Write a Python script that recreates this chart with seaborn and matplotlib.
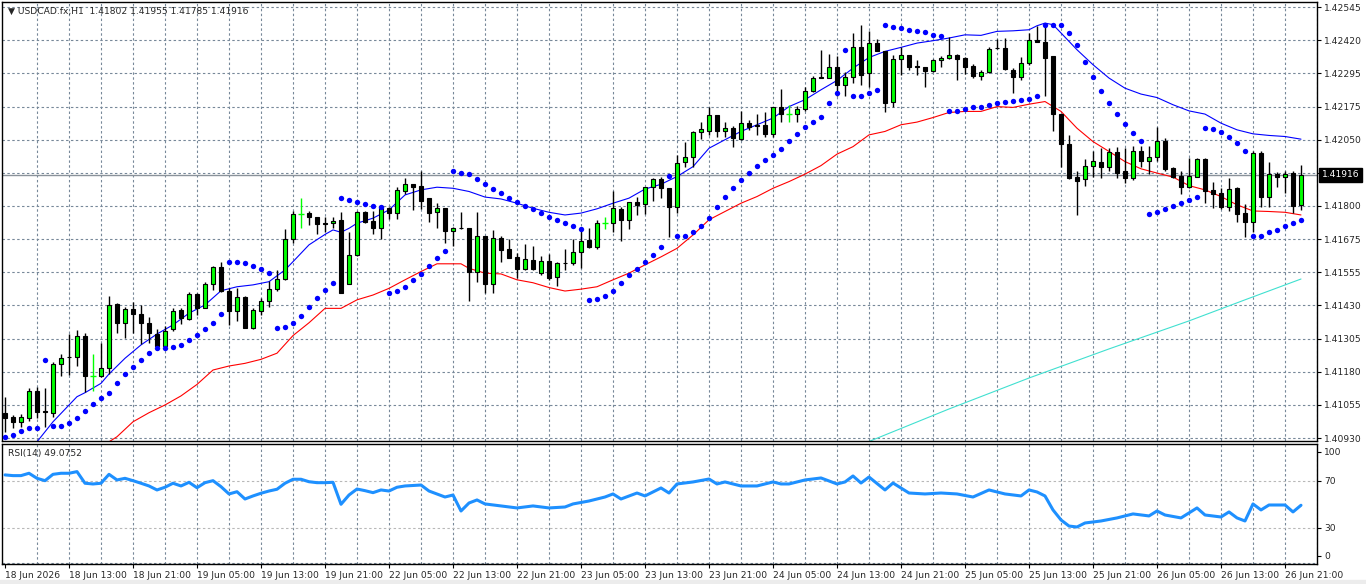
import numpy as np
import pandas as pd
import matplotlib
matplotlib.use("Agg")
import matplotlib.pyplot as plt
import matplotlib.transforms as mtransforms
import seaborn as sns

# --- candles (USDCAD.fx H1), one per hour ---
opens = [1.41025, 1.41008, 1.40991, 1.41004, 1.41106, 1.41030, 1.41025, 1.41206, 1.41234, 1.41233,
         1.41313, 1.41164, 1.41164, 1.41191, 1.41433, 1.41362, 1.41413, 1.41394, 1.41360, 1.41320,
         1.41275, 1.41338, 1.41410, 1.41376, 1.41469, 1.41419, 1.41506, 1.41570, 1.41482, 1.41407,
         1.41458, 1.41341, 1.41407, 1.41445, 1.41488, 1.41525, 1.41676, 1.41770, 1.41773, 1.41760,
         1.41735, 1.41735, 1.41748, 1.41506, 1.41616, 1.41776, 1.41744, 1.41716, 1.41791, 1.41773,
         1.41854, 1.41881, 1.41875, 1.41829, 1.41776, 1.41791, 1.41707, 1.41717, 1.41716, 1.41554,
         1.41688, 1.41506, 1.41679, 1.41638, 1.41608, 1.41563, 1.41598, 1.41550, 1.41594, 1.41533,
         1.41586, 1.41585, 1.41629, 1.41673, 1.41647, 1.41735, 1.41735, 1.41789, 1.41748, 1.41814,
         1.41806, 1.41870, 1.41900, 1.41866, 1.41794, 1.41964, 1.41985, 1.42076, 1.42082, 1.42141,
         1.42082, 1.42091, 1.42051, 1.42110, 1.42104, 1.42104, 1.42069, 1.42170, 1.42145, 1.42144,
         1.42163, 1.42229, 1.42282, 1.42281, 1.42322, 1.42254, 1.42283, 1.42397, 1.42298, 1.42410,
         1.42381, 1.42189, 1.42350, 1.42364, 1.42325, 1.42320, 1.42307, 1.42345, 1.42354, 1.42366,
         1.42354, 1.42325, 1.42285, 1.42300, 1.42392, 1.42391, 1.42310, 1.42283, 1.42335, 1.42420,
         1.42414, 1.42363, 1.42144, 1.42031, 1.41908, 1.41900, 1.41951, 1.41966, 1.41945, 1.42001,
         1.41931, 1.41904, 1.42006, 1.41970, 1.41985, 1.42044, 1.41941, 1.41913, 1.41869, 1.41910,
         1.41975, 1.41860, 1.41850, 1.41797, 1.41866, 1.41775, 1.41741, 1.42000, 1.41835, 1.41920,
         1.41910, 1.41925, 1.41802]
highs = [1.41085, 1.41016, 1.41019, 1.41116, 1.41120, 1.41116, 1.41216, 1.41245, 1.41320, 1.41335,
         1.41323, 1.41245, 1.41285, 1.41463, 1.41437, 1.41422, 1.41441, 1.41429, 1.41385, 1.41338,
         1.41350, 1.41419, 1.41416, 1.41479, 1.41475, 1.41516, 1.41575, 1.41591, 1.41491, 1.41491,
         1.41464, 1.41419, 1.41454, 1.41519, 1.41560, 1.41713, 1.41779, 1.41829, 1.41781, 1.41760,
         1.41760, 1.41760, 1.41776, 1.41704, 1.41782, 1.41779, 1.41779, 1.41804, 1.41795, 1.41872,
         1.41904, 1.41881, 1.41931, 1.41829, 1.41810, 1.41791, 1.41722, 1.41776, 1.41716, 1.41776,
         1.41688, 1.41710, 1.41688, 1.41676, 1.41623, 1.41656, 1.41650, 1.41614, 1.41620, 1.41591,
         1.41638, 1.41676, 1.41716, 1.41716, 1.41748, 1.41758, 1.41856, 1.41797, 1.41816, 1.41833,
         1.41872, 1.41904, 1.41910, 1.41866, 1.41991, 1.42041, 1.42079, 1.42114, 1.42169, 1.42141,
         1.42116, 1.42100, 1.42154, 1.42123, 1.42145, 1.42150, 1.42172, 1.42239, 1.42179, 1.42176,
         1.42247, 1.42285, 1.42385, 1.42369, 1.42360, 1.42301, 1.42448, 1.42479, 1.42457, 1.42425,
         1.42381, 1.42366, 1.42397, 1.42366, 1.42348, 1.42322, 1.42351, 1.42363, 1.42433, 1.42369,
         1.42358, 1.42331, 1.42310, 1.42394, 1.42426, 1.42429, 1.42316, 1.42358, 1.42448, 1.42475,
         1.42485, 1.42363, 1.42144, 1.42066, 1.41931, 1.41975, 1.42006, 1.42016, 1.42016, 1.42022,
         1.42016, 1.42025, 1.42026, 1.42025, 1.42094, 1.42054, 1.41947, 1.41929, 1.41979, 1.41979,
         1.41981, 1.41891, 1.41866, 1.41904, 1.41869, 1.41806, 1.42004, 1.42004, 1.41966, 1.41926,
         1.41929, 1.41931, 1.41955]
lows = [1.40954, 1.40966, 1.40972, 1.40995, 1.41004, 1.40972, 1.41010, 1.41164, 1.41166, 1.41201,
        1.41104, 1.41107, 1.41160, 1.41170, 1.41325, 1.41306, 1.41323, 1.41281, 1.41285, 1.41260,
        1.41270, 1.41332, 1.41358, 1.41373, 1.41391, 1.41416, 1.41485, 1.41479, 1.41354, 1.41370,
        1.41341, 1.41339, 1.41391, 1.41422, 1.41482, 1.41522, 1.41660, 1.41716, 1.41729, 1.41694,
        1.41704, 1.41716, 1.41473, 1.41506, 1.41614, 1.41735, 1.41695, 1.41675, 1.41751, 1.41751,
        1.41845, 1.41785, 1.41789, 1.41741, 1.41716, 1.41660, 1.41651, 1.41713, 1.41445, 1.41516,
        1.41473, 1.41475, 1.41591, 1.41606, 1.41529, 1.41560, 1.41560, 1.41541, 1.41523, 1.41501,
        1.41560, 1.41579, 1.41569, 1.41641, 1.41639, 1.41713, 1.41704, 1.41670, 1.41713, 1.41766,
        1.41770, 1.41820, 1.41829, 1.41685, 1.41775, 1.41947, 1.41947, 1.42051, 1.42066, 1.42060,
        1.42060, 1.42022, 1.42048, 1.42085, 1.42066, 1.42060, 1.42060, 1.42116, 1.42116, 1.42114,
        1.42154, 1.42225, 1.42279, 1.42279, 1.42210, 1.42210, 1.42260, 1.42254, 1.42247, 1.42379,
        1.42150, 1.42172, 1.42291, 1.42310, 1.42289, 1.42244, 1.42301, 1.42322, 1.42351, 1.42270,
        1.42294, 1.42281, 1.42273, 1.42298, 1.42389, 1.42310, 1.42223, 1.42273, 1.42329, 1.42414,
        1.42213, 1.42079, 1.41947, 1.41900, 1.41766, 1.41876, 1.41910, 1.41906, 1.41929, 1.41906,
        1.41887, 1.41898, 1.41947, 1.41919, 1.41969, 1.41929, 1.41904, 1.41845, 1.41866, 1.41908,
        1.41810, 1.41791, 1.41788, 1.41781, 1.41739, 1.41685, 1.41704, 1.41795, 1.41794, 1.41869,
        1.41848, 1.41775, 1.41785]
closes = [1.41004, 1.40991, 1.41008, 1.41106, 1.41029, 1.41028, 1.41206, 1.41229, 1.41232, 1.41313,
          1.41164, 1.41164, 1.41191, 1.41429, 1.41362, 1.41413, 1.41394, 1.41360, 1.41323, 1.41275,
          1.41332, 1.41406, 1.41379, 1.41469, 1.41416, 1.41506, 1.41570, 1.41482, 1.41407, 1.41458,
          1.41341, 1.41410, 1.41445, 1.41488, 1.41525, 1.41675, 1.41770, 1.41770, 1.41760, 1.41731,
          1.41731, 1.41745, 1.41473, 1.41616, 1.41776, 1.41741, 1.41716, 1.41801, 1.41773, 1.41860,
          1.41881, 1.41872, 1.41820, 1.41775, 1.41791, 1.41707, 1.41716, 1.41716, 1.41554, 1.41688,
          1.41506, 1.41679, 1.41635, 1.41606, 1.41563, 1.41600, 1.41563, 1.41595, 1.41531, 1.41585,
          1.41585, 1.41629, 1.41670, 1.41647, 1.41735, 1.41735, 1.41791, 1.41748, 1.41814, 1.41804,
          1.41870, 1.41900, 1.41866, 1.41794, 1.41960, 1.41985, 1.42076, 1.42088, 1.42141, 1.42082,
          1.42091, 1.42054, 1.42110, 1.42095, 1.42100, 1.42069, 1.42170, 1.42144, 1.42145, 1.42163,
          1.42229, 1.42279, 1.42281, 1.42322, 1.42254, 1.42283, 1.42397, 1.42291, 1.42410, 1.42379,
          1.42185, 1.42350, 1.42364, 1.42322, 1.42319, 1.42307, 1.42348, 1.42354, 1.42364, 1.42350,
          1.42322, 1.42285, 1.42301, 1.42389, 1.42391, 1.42313, 1.42283, 1.42335, 1.42420, 1.42414,
          1.42356, 1.42144, 1.42031, 1.41906, 1.41895, 1.41951, 1.41969, 1.41947, 1.42001, 1.41925,
          1.41904, 1.42006, 1.41970, 1.41985, 1.42044, 1.41939, 1.41908, 1.41869, 1.41913, 1.41975,
          1.41857, 1.41845, 1.41797, 1.41864, 1.41770, 1.41741, 1.42000, 1.41835, 1.41919, 1.41910,
          1.41919, 1.41801, 1.41916]

# --- parabolic SAR dots ---
sar = [1.40935, 1.40941, 1.40956, 1.40966, 1.40966, 1.41223, 1.40975, 1.40975, 1.40985, 1.41004,
       1.41031, 1.41056, 1.41079, 1.41100, 1.41137, 1.41170, 1.41195, 1.41223, 1.41250, 1.41269,
       1.41269, 1.41272, 1.41279, 1.41298, 1.41316, 1.41338, 1.41360, 1.41395, 1.41591, 1.41591,
       1.41585, 1.41575, 1.41563, 1.41548, 1.41341, 1.41345, 1.41360, 1.41388, 1.41420, 1.41454,
       1.41485, 1.41512, 1.41829, 1.41823, 1.41814, 1.41806, 1.41800, 1.41795, 1.41475, 1.41481,
       1.41495, 1.41523, 1.41545, 1.41575, 1.41606, 1.41631, 1.41931, 1.41925, 1.41920, 1.41901,
       1.41881, 1.41864, 1.41848, 1.41829, 1.41814, 1.41800, 1.41788, 1.41773, 1.41758, 1.41748,
       1.41735, 1.41725, 1.41714, 1.41448, 1.41450, 1.41463, 1.41481, 1.41510, 1.41541, 1.41564,
       1.41591, 1.41616, 1.41647, 1.41913, 1.41688, 1.41688, 1.41701, 1.41725, 1.41756, 1.41795,
       1.41833, 1.41866, 1.41898, 1.41923, 1.41950, 1.41973, 1.41991, 1.42013, 1.42044, 1.42070,
       1.42095, 1.42114, 1.42133, 1.42185, 1.42223, 1.42385, 1.42213, 1.42213, 1.42223, 1.42235,
       1.42479, 1.42470, 1.42466, 1.42460, 1.42454, 1.42450, 1.42441, 1.42435, 1.42154, 1.42156,
       1.42163, 1.42169, 1.42172, 1.42179, 1.42185, 1.42189, 1.42194, 1.42198, 1.42201, 1.42213,
       1.42479, 1.42479, 1.42479, 1.42448, 1.42401, 1.42339, 1.42283, 1.42231, 1.42185, 1.42144,
       1.42106, 1.42073, 1.42044, 1.41769, 1.41776, 1.41788, 1.41800, 1.41810, 1.41823, 1.41833,
       1.42091, 1.42089, 1.42076, 1.42058, 1.42035, 1.42006, 1.41688, 1.41688, 1.41701, 1.41710,
       1.41725, 1.41735, 1.41748]

# --- moving averages, read at sample bars ---
blue_idx = [4, 6, 9, 10, 12, 13, 15, 17, 19, 21, 23, 25, 27, 29, 31, 33, 35, 36, 38, 40, 41, 42, 43, 44,
            46, 48, 50, 52, 54, 56, 58, 60, 62, 64, 66, 68, 70, 72, 74, 76, 78, 80, 82, 84, 86, 88, 90,
            92, 94, 96, 98, 100, 102, 104, 106, 108, 110, 112, 114, 116, 118, 120, 122, 124, 126, 128,
            129, 130, 131, 132, 134, 136, 138, 140, 142, 144, 146, 148, 150, 152, 154, 156, 158, 160, 162]
blue_ma = [1.40916, 1.40991, 1.41085, 1.41100, 1.41135, 1.41170, 1.41229, 1.41279, 1.41320, 1.41354,
           1.41398, 1.41429, 1.41482, 1.41497, 1.41504, 1.41516, 1.41560, 1.41591, 1.41654, 1.41693,
           1.41710, 1.41701, 1.41716, 1.41735, 1.41754, 1.41785, 1.41841, 1.41860, 1.41870, 1.41866,
           1.41854, 1.41833, 1.41826, 1.41810, 1.41791, 1.41776, 1.41766, 1.41773, 1.41789, 1.41810,
           1.41829, 1.41863, 1.41881, 1.41910, 1.41947, 1.42016, 1.42048, 1.42079, 1.42104, 1.42129,
           1.42172, 1.42198, 1.42235, 1.42270, 1.42316, 1.42356, 1.42379, 1.42394, 1.42410, 1.42419,
           1.42429, 1.42441, 1.42439, 1.42454, 1.42456, 1.42460, 1.42475, 1.42485, 1.42479, 1.42448,
           1.42385, 1.42329, 1.42279, 1.42241, 1.42219, 1.42206, 1.42179, 1.42156, 1.42144, 1.42110,
           1.42085, 1.42070, 1.42064, 1.42060, 1.42050]

red_idx = [13, 14, 16, 18, 20, 22, 24, 26, 28, 30, 32, 34, 36, 38, 40, 42, 44, 46, 48, 50, 52, 54, 57,
           58, 60, 62, 64, 66, 68, 70, 72, 74, 76, 78, 80, 82, 84, 86, 88, 90, 92, 94, 96, 98, 100,
           102, 104, 106, 108, 110, 112, 114, 116, 118, 120, 122, 124, 126, 128, 130, 132, 134, 136,
           138, 140, 142, 144, 146, 148, 150, 152, 154, 156, 158, 160, 162]
red_ma = [1.40916, 1.40935, 1.40991, 1.41025, 1.41054, 1.41088, 1.41131, 1.41185, 1.41200, 1.41210,
          1.41225, 1.41248, 1.41314, 1.41362, 1.41416, 1.41416, 1.41448, 1.41466, 1.41491, 1.41523,
          1.41554, 1.41583, 1.41583, 1.41566, 1.41548, 1.41545, 1.41523, 1.41512, 1.41494, 1.41481,
          1.41488, 1.41497, 1.41523, 1.41548, 1.41579, 1.41609, 1.41641, 1.41691, 1.41748, 1.41779,
          1.41810, 1.41835, 1.41866, 1.41891, 1.41919, 1.41951, 1.41994, 1.42022, 1.42066, 1.42079,
          1.42104, 1.42114, 1.42131, 1.42150, 1.42154, 1.42154, 1.42172, 1.42169, 1.42181, 1.42191,
          1.42154, 1.42091, 1.42041, 1.42004, 1.41966, 1.41939, 1.41923, 1.41908, 1.41876, 1.41860,
          1.41835, 1.41804, 1.41781, 1.41779, 1.41776, 1.41766]

teal_idx = [107, 118, 128, 138, 148, 155, 162]
teal_ma = [1.40905, 1.41039, 1.41155, 1.41264, 1.41369, 1.41448, 1.41526]

# --- RSI(14) ---
rsi_idx = list(range(50)) + [50, 52, 53, 55, 56, 57, 58, 59, 60, 62, 64, 66, 68, 70, 71, 73, 75, 76, 77,
                             78, 79, 80, 82, 83, 84, 86, 88, 89, 90, 92, 94, 96, 97, 98, 100, 102, 104,
                             105, 106, 107, 108, 110, 111, 113, 115, 117, 119, 121, 123, 125, 127, 128,
                             129, 130, 131, 132, 133, 134, 135, 137, 139, 141, 143, 144, 145, 147, 148,
                             149, 150, 152, 153, 154, 155, 156, 157, 158, 160, 161, 162]
rsi = [74.9, 74.3, 74.3, 76.3, 72.0, 70.0, 75.4, 76.3, 76.3, 77.7, 67.8, 67.2, 67.8, 75.4, 70.6, 72.0,
       70.0, 67.8, 65.5, 62.1, 64.4, 67.8, 65.5, 68.6, 64.0, 68.3, 70.0, 64.9, 58.7, 60.6, 54.4, 57.0,
       59.3, 61.2, 62.7, 67.8, 71.2, 71.2, 69.1, 68.3, 68.3, 68.6, 49.9, 57.8, 62.9, 61.5, 59.8, 62.1,
       61.2, 64.4,
       65.5, 66.3, 61.2, 56.1, 57.8, 44.2, 51.0, 53.6, 50.2, 48.5, 46.8, 48.5, 46.8, 47.6, 50.2, 52.7,
       56.1, 58.7, 54.4, 57.0, 59.5, 57.0, 63.8, 59.5, 67.2, 68.9, 71.4, 67.2, 68.9, 65.5, 65.5, 68.9,
       67.2, 67.2, 70.6, 72.3, 67.2, 68.9, 74.0, 68.0, 73.1, 62.1, 68.0, 59.5, 58.7, 59.5, 58.7, 56.1,
       62.1, 58.7, 57.0, 62.1, 60.4, 57.0, 45.1, 36.6, 31.4, 30.6, 34.0, 35.7, 38.3, 41.7, 40.0, 44.2,
       40.8, 38.3, 42.5, 46.8, 40.8, 39.1, 43.4, 38.3, 35.7, 50.2, 45.1, 49.3, 49.3, 43.4, 49.08]

time_labels = ['18 Jun 2026', '18 Jun 13:00', '18 Jun 21:00', '19 Jun 05:00', '19 Jun 13:00',
               '19 Jun 21:00', '22 Jun 05:00', '22 Jun 13:00', '22 Jun 21:00', '23 Jun 05:00',
               '23 Jun 13:00', '23 Jun 21:00', '24 Jun 05:00', '24 Jun 13:00', '24 Jun 21:00',
               '25 Jun 05:00', '25 Jun 13:00', '25 Jun 21:00', '26 Jun 05:00', '26 Jun 13:00',
               '26 Jun 21:00']
price_labels = ['1.40930', '1.41055', '1.41180', '1.41305', '1.41430', '1.41555', '1.41675',
                '1.41800', '', '1.42050', '1.42175', '1.42295', '1.42420', '1.42545']
last_price = 1.41916
title = '\u25bc USDCAD.fx,H1  1.41802 1.41955 1.41785 1.41916'

df = pd.DataFrame({'bar': np.arange(len(opens)), 'open': opens, 'high': highs,
                   'low': lows, 'close': closes, 'sar': sar})

sns.set_style('white')
plt.rcParams['font.family'] = ['DejaVu Sans']

W, H = 1366, 584
fig = plt.figure(figsize=(W / 100, H / 100), dpi=100)
grid_col = '#778899'
dash = (0, (2.2, 2.2))

ax = fig.add_axes([2 / W, 1 - 441 / H, 1315 / W, 439 / H])
ax2 = fig.add_axes([2 / W, 1 - 564 / H, 1315 / W, 120 / H], sharex=ax)

for a in (ax, ax2):
    for s in a.spines.values():
        s.set_color('black')
        s.set_linewidth(1)
    a.set_facecolor('white')

# price grid
levels = np.linspace(1.40930, 1.42545, 14)
for lv in levels:
    ax.axhline(lv, color=grid_col, lw=0.8, ls=dash, zorder=0)
for k in range(4, 165, 4):
    ax.axvline(k, color=grid_col, lw=0.8, ls=dash, zorder=0)
    ax2.axvline(k, color=grid_col, lw=0.8, ls=dash, zorder=0)

# last price line
ax.axhline(last_price, color='#8a929a', lw=1, zorder=1)

# moving averages
sns.lineplot(x=teal_idx, y=teal_ma, ax=ax, color='#40e0d0', lw=0.8, sort=False, zorder=2)
sns.lineplot(x=red_idx, y=red_ma, ax=ax, color='#ff0000', lw=0.8, sort=False, zorder=2)
sns.lineplot(x=blue_idx, y=blue_ma, ax=ax, color='#0000ff', lw=0.8, sort=False, zorder=2)

# candles
doji = df['open'] == df['close']
bull = (df['close'] > df['open'])
bear = (df['close'] < df['open'])
nd = df[~doji]
ax.vlines(nd['bar'], nd['low'], nd['high'], color='black', lw=1, zorder=3)
dj = df[doji]
ax.vlines(dj['bar'], dj['low'], dj['high'], color='#00ff00', lw=1, zorder=3)
ax.hlines(dj['close'], dj['bar'] - 0.35, dj['bar'] + 0.35, color='#00ff00', lw=1, zorder=3)
bu = df[bull]
ax.bar(bu['bar'], bu['close'] - bu['open'], bottom=bu['open'], width=0.55,
       color='#00ff00', edgecolor='black', linewidth=0.8, zorder=4)
be = df[bear]
ax.bar(be['bar'], be['open'] - be['close'], bottom=be['close'], width=0.55,
       color='black', edgecolor='black', linewidth=0.8, zorder=4)

# parabolic SAR
sns.scatterplot(data=df, x='bar', y='sar', ax=ax, color='#0000ff', s=15, marker='o',
                linewidth=0, zorder=5)

ax.set_xlim(-0.375, 164)
ax.set_ylim(1.40919, 1.42564)
ax.set_xlabel('')
ax.set_ylabel('')
ax.yaxis.tick_right()
ax.set_yticks(levels)
ax.set_yticklabels(price_labels)
ax.tick_params(axis='y', which='both', right=True, length=3, width=0.8, color='black',
               labelsize=6.6, pad=2, direction='out')
ax.tick_params(axis='x', bottom=False, labelbottom=False)

# current price box
tr = mtransforms.blended_transform_factory(ax.transAxes, ax.transData)
ax.text(1.0035, last_price, '1.41916', transform=tr, color='white', fontsize=6.6,
        va='center', ha='left', zorder=10,
        bbox=dict(boxstyle='square,pad=0.25', facecolor='black', edgecolor='black'))

fig.text(8 / W, 1 - 11 / H, title, fontsize=6.6, va='center', ha='left')

# RSI panel
for lv in (70, 30):
    ax2.axhline(lv, color='#b8b8b8', lw=0.8, ls=dash, zorder=0)
ax2.axhline(0, color=grid_col, lw=0.8, ls=dash, zorder=0)
sns.lineplot(x=rsi_idx, y=rsi, ax=ax2, color='#1e90ff', lw=2.2, sort=False, zorder=3)
ax2.set_ylim(-0.9, 101.2)
ax2.set_xlabel('')
ax2.set_ylabel('')
ax2.yaxis.tick_right()
ax2.set_yticks([94.7, 70, 30, 6.2])
ax2.set_yticklabels(['100', '70', '30', '0'])
ax2.tick_params(axis='y', right=True, length=3, width=0.8, color='black',
                labelsize=6.6, pad=2, direction='out')
ax2.set_xticks(list(range(0, 161, 8)))
ax2.set_xticklabels(time_labels)
ax2.tick_params(axis='x', bottom=True, length=3, width=0.8, color='black',
                labelsize=6.6, pad=2, direction='out')
for lab in ax2.get_xticklabels():
    lab.set_ha('left')
ax2.text(6 / 1315, 0.92, 'RSI(14) 49.0752', transform=ax2.transAxes, fontsize=6.6,
         va='center', ha='left')

fig.patches.append(plt.Rectangle((0, 0), 1, 4 / H, transform=fig.transFigure,
                                 color='#ececec', zorder=0))

fig.savefig('out.png', dpi=100)
